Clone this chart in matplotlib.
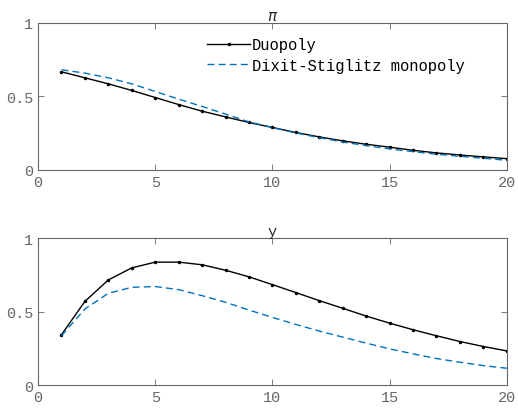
import numpy as np
import matplotlib
matplotlib.use("Agg")
import matplotlib.pyplot as plt

t = np.arange(1, 21)

# profits (pi)
pi_duo = [0.668, 0.627, 0.586, 0.541, 0.493, 0.445, 0.400, 0.361, 0.323, 0.289,
          0.255, 0.225, 0.198, 0.175, 0.155, 0.134, 0.116, 0.102, 0.089, 0.077]
pi_mono = [0.682, 0.659, 0.627, 0.586, 0.534, 0.482, 0.432, 0.380, 0.327, 0.289,
           0.252, 0.220, 0.190, 0.166, 0.143, 0.125, 0.107, 0.093, 0.080, 0.066]

# output (y)
y_duo = [0.342, 0.569, 0.715, 0.797, 0.836, 0.836, 0.818, 0.781, 0.736, 0.683,
         0.629, 0.574, 0.522, 0.469, 0.421, 0.376, 0.335, 0.296, 0.262, 0.232]
y_mono = [0.335, 0.517, 0.624, 0.665, 0.670, 0.649, 0.608, 0.563, 0.510, 0.460,
          0.412, 0.367, 0.326, 0.285, 0.246, 0.212, 0.180, 0.155, 0.132, 0.114]

plt.rcParams['font.family'] = ['Liberation Mono', 'DejaVu Sans']
plt.rcParams['font.size'] = 10

gray = '#262626'
tickc = '#666666'

fig = plt.figure(figsize=(5.18, 4.10), dpi=100)
ax1 = fig.add_axes([0.0734, 0.583, 0.905, 0.3585])
ax2 = fig.add_axes([0.0734, 0.0585, 0.905, 0.3585])

for ax, d, m, title in [(ax1, pi_duo, pi_mono, r'$\pi$'), (ax2, y_duo, y_mono, 'y')]:
    ax.plot(t, d, '-', color='k', lw=1.0, marker='.', markersize=3, label='Duopoly')
    ax.plot(t, m, '--', color='#0072BD', lw=1.0, dashes=(5, 3), label='Dixit-Stiglitz monopoly')
    ax.set_xlim(0, 20)
    ax.set_ylim(0, 1)
    ax.set_xticks([0, 5, 10, 15, 20])
    ax.set_yticks([0, 0.5, 1])
    ax.set_yticklabels(['0', '0.5', '1'])
    ax.tick_params(direction='in', top=True, right=True, length=4, width=0.6,
                   colors=tickc, labelcolor=tickc, labelsize=11)
    for s in ax.spines.values():
        s.set_color(tickc)
        s.set_linewidth(0.8)
    ax.set_title(title, fontsize=11, color=gray, pad=2)

ax1.legend(loc='upper left', bbox_to_anchor=(0.348, 0.945), frameon=False,
           fontsize=11.2, handlelength=2.75, handletextpad=0.12, labelspacing=0.35,
           borderaxespad=0)

fig.savefig('out.png', dpi=100)
